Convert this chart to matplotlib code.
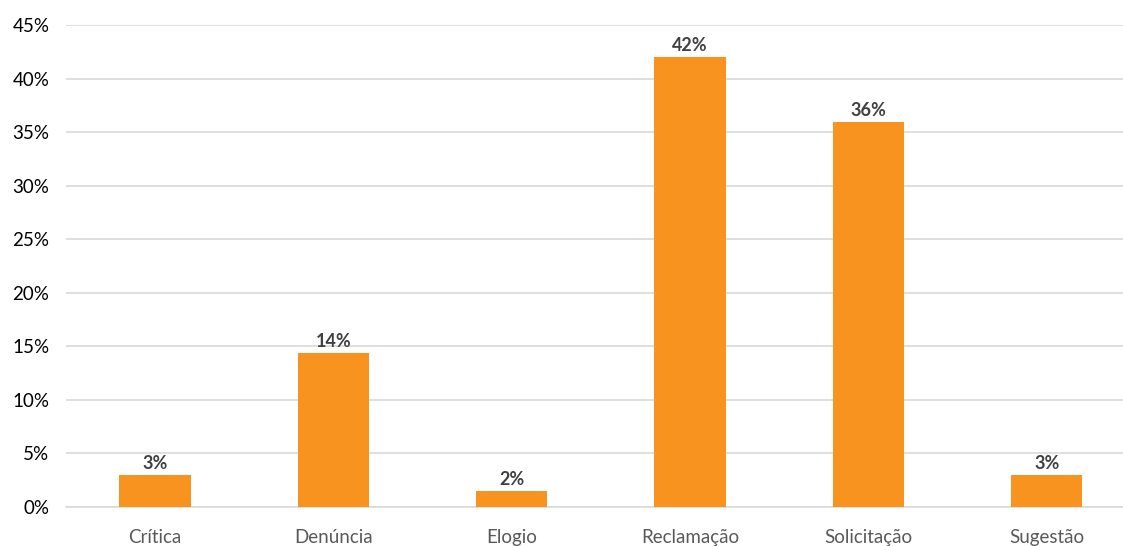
import matplotlib
matplotlib.use("Agg")
import matplotlib.pyplot as plt
from matplotlib.ticker import FuncFormatter, MultipleLocator

categories = ["Crítica", "Denúncia", "Elogio", "Reclamação", "Solicitação", "Sugestão"]
values = [0.030, 0.144, 0.015, 0.420, 0.359, 0.030]
labels = ["3%", "14%", "2%", "42%", "36%", "3%"]

plt.rcParams['font.family'] = ['Lato', 'DejaVu Sans']

fig = plt.figure(figsize=(11.23, 5.46), dpi=100)
ax = fig.add_axes([66/1123, 39/546, 1 - 66/1123, (507-25)/546])

x = list(range(len(categories)))
ax.bar(x, values, width=0.4, color="#F7931E", zorder=3)
for xi, v, lab in zip(x, values, labels):
    ax.text(xi, v + 0.003, lab, ha="center", va="bottom", fontsize=13,
            fontweight="bold", color="#404040", zorder=4)

ax.set_ylim(0, 0.45)
ax.set_xlim(-0.5, 5.5 - 13/178.4)
ax.yaxis.set_major_locator(MultipleLocator(0.05))
ax.yaxis.set_major_formatter(FuncFormatter(lambda v, p: f"{round(v*100)}%"))
ax.grid(axis="y", color="#D9D9D9", linewidth=1.2, zorder=0)
ax.set_xticks(x)
ax.set_xticklabels(categories)
for s in ["top", "right", "left"]:
    ax.spines[s].set_visible(False)
ax.spines["bottom"].set_color("#D9D9D9")
ax.spines["bottom"].set_linewidth(1.2)
ax.tick_params(axis="both", length=0, labelsize=13.5, colors="#595959")
ax.tick_params(axis="y", colors="#000000", pad=12)
ax.tick_params(axis="x", pad=16)

fig.savefig("out.png", dpi=100)
